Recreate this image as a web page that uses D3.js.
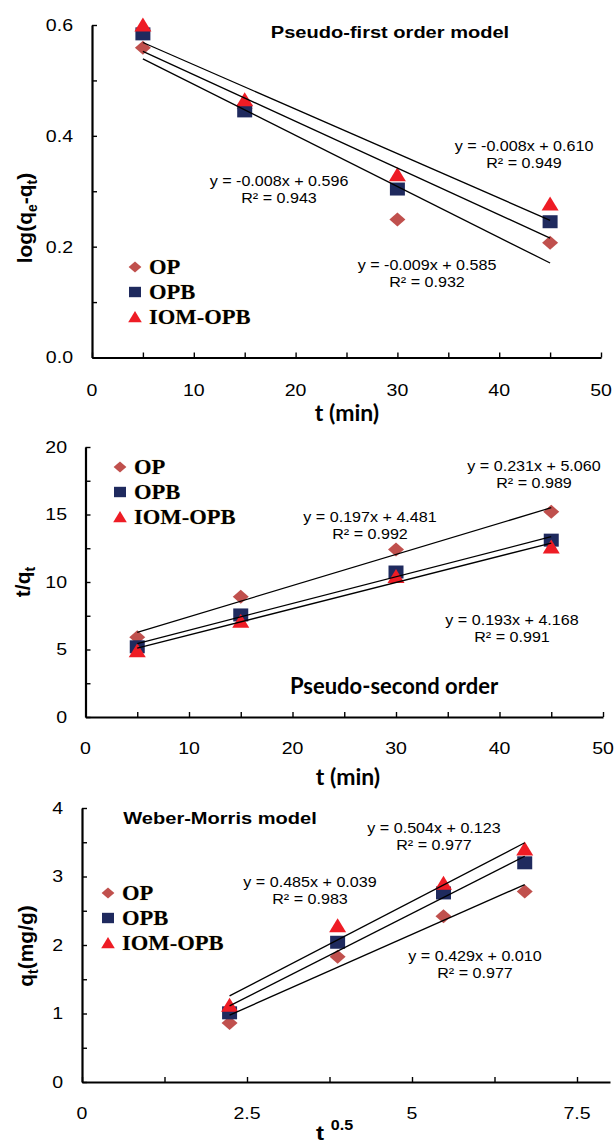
<!DOCTYPE html>
<html>
<head>
<meta charset="utf-8">
<script src="https://cdn.jsdelivr.net/npm/d3@7"></script>
<style>
  body { margin: 0; background: #fff; }
  svg { display: block; }
</style>
</head>
<body>
<div id="chart"></div>
<script>
// x values (time in min, and square root of time)
const tMin = [5, 15, 30, 45];
const tRoot = [2.236, 3.873, 5.477, 6.708];

// pseudo-first order, log(qe-qt)
const pfoOP = [0.559, 0.450, 0.249, 0.207];
const pfoOPB = [0.584, 0.445, 0.304, 0.245];
const pfoIOM = [0.600, 0.465, 0.330, 0.277];

// pseudo-second order, t/qt
const psoOP = [5.9, 8.9, 12.4, 15.2];
const psoOPB = [5.2, 7.56, 10.74, 13.1];
const psoIOM = [4.9, 7.1, 10.4, 12.6];

// weber-morris, qt (mg/g)
const wmOP = [0.86, 1.83, 2.42, 2.78];
const wmOPB = [1.01, 2.04, 2.76, 3.2];
const wmIOM = [1.12, 2.28, 2.9, 3.4];

const seriesNames = ["OP", "OPB", "IOM-OPB"];

// tick labels
const pfoYTicks = ["0.0", "0.2", "0.4", "0.6"];
const timeXTicks = ["0", "10", "20", "30", "40", "50"];
const psoYTicks = ["0", "5", "10", "15", "20"];
const wmYTicks = ["0", "1", "2", "3", "4"];
const wmXTicks = ["0", "2.5", "5", "7.5"];

// equation labels
const pfoEq = [["y = -0.009x + 0.585", "R² = 0.932"], ["y = -0.008x + 0.596", "R² = 0.943"], ["y = -0.008x + 0.610", "R² = 0.949"]];
const psoEq = [["y = 0.231x + 5.060", "R² = 0.989"], ["y = 0.197x + 4.481", "R² = 0.992"], ["y = 0.193x + 4.168", "R² = 0.991"]];
const wmEq = [["y = 0.429x + 0.010", "R² = 0.977"], ["y = 0.485x + 0.039", "R² = 0.983"], ["y = 0.504x + 0.123", "R² = 0.977"]];

const colors = ["#c0504d", "#1f2a5e", "#ee1c25"];
const SANS = '"Liberation Sans", Arial, sans-serif';
const SERIF = '"Liberation Serif", "Times New Roman", serif';

const W = 616, H = 1144;
const svg = d3.select("#chart").append("svg").attr("width", W).attr("height", H);
svg.append("rect").attr("width", W).attr("height", H).attr("fill", "#fff");

// markers (slightly wider than tall, like the picture)
const shapes = {
  diamond: s => `M0,${-7*s}L${8*s},0L0,${7*s}L${-8*s},0Z`,
  square: s => `M${-7.5*s},${-6.5*s}h${15*s}v${13*s}h${-15*s}Z`,
  triangle: s => `M0,${-7.5*s}L${8.5*s},${6.5*s}L${-8.5*s},${6.5*s}Z`
};
const shapeOrder = ["diamond", "square", "triangle"];

function txt(g, x, y, str, o) {
  o = o || {};
  return g.append("text")
    .attr("transform", `translate(${x},${y}) scale(${o.sx || 1.15},1)`)
    .attr("text-anchor", o.anchor || "middle")
    .attr("dy", "0.35em")
    .style("font-family", o.family || SANS)
    .style("font-size", (o.size || 14) + "px")
    .style("font-weight", o.weight || "normal")
    .attr("fill", "#000")
    .text(str);
}

function fit(xs, ys) {
  const mx = d3.mean(xs), my = d3.mean(ys);
  let sxy = 0, sxx = 0;
  xs.forEach((x, i) => { sxy += (x - mx) * (ys[i] - my); sxx += (x - mx) ** 2; });
  const b = sxy / sxx;
  return [b, my - b * mx];
}

function panel(p) {
  const g = svg.append("g");
  const x = d3.scaleLinear().domain(p.xDomain).range(p.xRange);
  const y = d3.scaleLinear().domain(p.yDomain).range(p.yRange);

  // axes, ticks inside
  const xAx = d3.axisBottom(x).tickValues(p.xTickVals).tickSizeInner(-5).tickSizeOuter(0).tickFormat("");
  const yAx = d3.axisLeft(y).tickValues(p.yTickVals).tickSizeInner(-5).tickSizeOuter(0).tickFormat("");
  const gx = g.append("g").attr("transform", `translate(0,${p.yRange[0]})`).call(xAx);
  const gy = g.append("g").attr("transform", `translate(${p.xRange[0]},0)`).call(yAx);
  [gx, gy].forEach(a => {
    a.select(".domain").attr("stroke", "#000").attr("stroke-width", 2.2);
    a.selectAll(".tick line").attr("stroke", "#000").attr("stroke-width", 1.4);
  });

  // tick labels
  p.xLabels.forEach(s => txt(g, x(+s), p.xLabelY, s, { size: 17 }));
  p.yLabels.forEach(s => txt(g, p.yLabelX, y(+s), s, { size: 17, anchor: "end" }));

  // markers
  p.series.forEach((ys, k) => {
    g.append("g").selectAll("path").data(ys).join("path")
      .attr("d", shapes[shapeOrder[k]](1))
      .attr("transform", (d, i) => `translate(${x(p.xs[i])},${y(d)})`)
      .attr("fill", colors[k]);
  });

  // linear trendlines
  p.series.forEach(ys => {
    const [b, a] = fit(p.xs, ys);
    const x0 = p.xs[0], x1 = p.xs[p.xs.length - 1];
    g.append("line")
      .attr("x1", x(x0)).attr("y1", y(a + b * x0))
      .attr("x2", x(x1)).attr("y2", y(a + b * x1))
      .attr("stroke", "#000").attr("stroke-width", 1.3);
  });

  // equations
  p.eq.forEach((e, k) => {
    const pos = p.eqPos[k];
    txt(g, pos[0], pos[1], e[0], { size: 14 });
    txt(g, pos[0], pos[1] + 17.5, e[1], { size: 14 });
  });

  // legend
  seriesNames.forEach((n, k) => {
    const ly = p.legend[1] + k * 25;
    g.append("path").attr("d", shapes[shapeOrder[k]](0.8))
      .attr("transform", `translate(${p.legend[0]},${ly})`).attr("fill", colors[k]);
    txt(g, p.legend[0] + 14, ly, n, { family: SERIF, size: 20, weight: "bold", anchor: "start", sx: 1.13 })
      .attr("stroke", "#f3d9a6").attr("stroke-width", 0.6).attr("paint-order", "stroke");
  });
  return g;
}

// ---- Pseudo-first order ----
const g1 = panel({
  xDomain: [0, 50], xRange: [92, 601],
  yDomain: [0, 0.6], yRange: [357.5, 25],
  xTickVals: d3.range(0, 51, 5), yTickVals: d3.range(0, 0.61, 0.1),
  xLabels: timeXTicks, xLabelY: 390,
  yLabels: pfoYTicks, yLabelX: 73,
  xs: tMin, series: [pfoOP, pfoOPB, pfoIOM],
  eq: pfoEq, eqPos: [[427, 265], [279, 181], [524, 146]],
  legend: [135, 267]
});
txt(g1, 390, 32, "Pseudo-first order model", { size: 17, weight: "bold", sx: 1.18 });
txt(g1, 347, 413, "t (min)", { family: "Lato, sans-serif", size: 23, weight: "bold", sx: 1.0 });
g1.append("text")
  .attr("transform", "translate(32,218) rotate(-90)")
  .attr("text-anchor", "middle")
  .style("font-family", SANS).style("font-size", "21px").style("font-weight", "bold")
  .call(t => {
    t.append("tspan").text("log(q");
    t.append("tspan").attr("dy", 5).style("font-size", "14px").text("e");
    t.append("tspan").attr("dy", -5).text("-q");
    t.append("tspan").attr("dy", 5).style("font-size", "14px").text("t");
    t.append("tspan").attr("dy", -5).text(")");
  });

// ---- Pseudo-second order ----
const g2 = panel({
  xDomain: [0, 50], xRange: [85.5, 603],
  yDomain: [0, 20], yRange: [717, 447],
  xTickVals: d3.range(0, 51, 5), yTickVals: d3.range(0, 20.1, 2.5),
  xLabels: timeXTicks, xLabelY: 748,
  yLabels: psoYTicks, yLabelX: 67,
  xs: tMin, series: [psoOP, psoOPB, psoIOM],
  eq: psoEq, eqPos: [[534, 466], [370, 517], [512, 620]],
  legend: [120, 467]
});
txt(g2, 394, 686, "Pseudo-second order", { family: "Lato, sans-serif", size: 22, weight: "bold", sx: 1.0 });
txt(g2, 348, 777, "t (min)", { family: "Lato, sans-serif", size: 23, weight: "bold", sx: 1.0 });
g2.append("text")
  .attr("transform", "translate(30,582) rotate(-90)")
  .attr("text-anchor", "middle")
  .style("font-family", SANS).style("font-size", "21px").style("font-weight", "bold")
  .call(t => {
    t.append("tspan").text("t/q");
    t.append("tspan").attr("dy", 5).style("font-size", "14px").text("t");
  });

// ---- Weber-Morris ----
const g3 = panel({
  xDomain: [0, 8], xRange: [82, 610],
  yDomain: [0, 4], yRange: [1082, 808],
  xTickVals: d3.range(0, 8.01, 1.25), yTickVals: d3.range(0, 4.01, 0.5),
  xLabels: wmXTicks, xLabelY: 1113,
  yLabels: wmYTicks, yLabelX: 63,
  xs: tRoot, series: [wmOP, wmOPB, wmIOM],
  eq: wmEq, eqPos: [[475, 956], [310, 882], [434, 828]],
  legend: [108, 893]
});
txt(g3, 220, 818, "Weber-Morris model", { size: 17, weight: "bold", sx: 1.18 });
g3.append("text")
  .attr("transform", "translate(316,1140) scale(1.15,1)")
  .attr("text-anchor", "start")
  .style("font-family", SANS).style("font-size", "21px").style("font-weight", "bold")
  .call(t => {
    t.append("tspan").text("t ");
    t.append("tspan").attr("dy", -10).style("font-size", "14px").text("0.5");
  });
g3.append("text")
  .attr("transform", "translate(33,946) rotate(-90)")
  .attr("text-anchor", "middle")
  .style("font-family", SANS).style("font-size", "21px").style("font-weight", "bold")
  .call(t => {
    t.append("tspan").text("q");
    t.append("tspan").attr("dy", 5).style("font-size", "14px").text("t");
    t.append("tspan").attr("dy", -5).text("(mg/g)");
  });
</script>
</body>
</html>
